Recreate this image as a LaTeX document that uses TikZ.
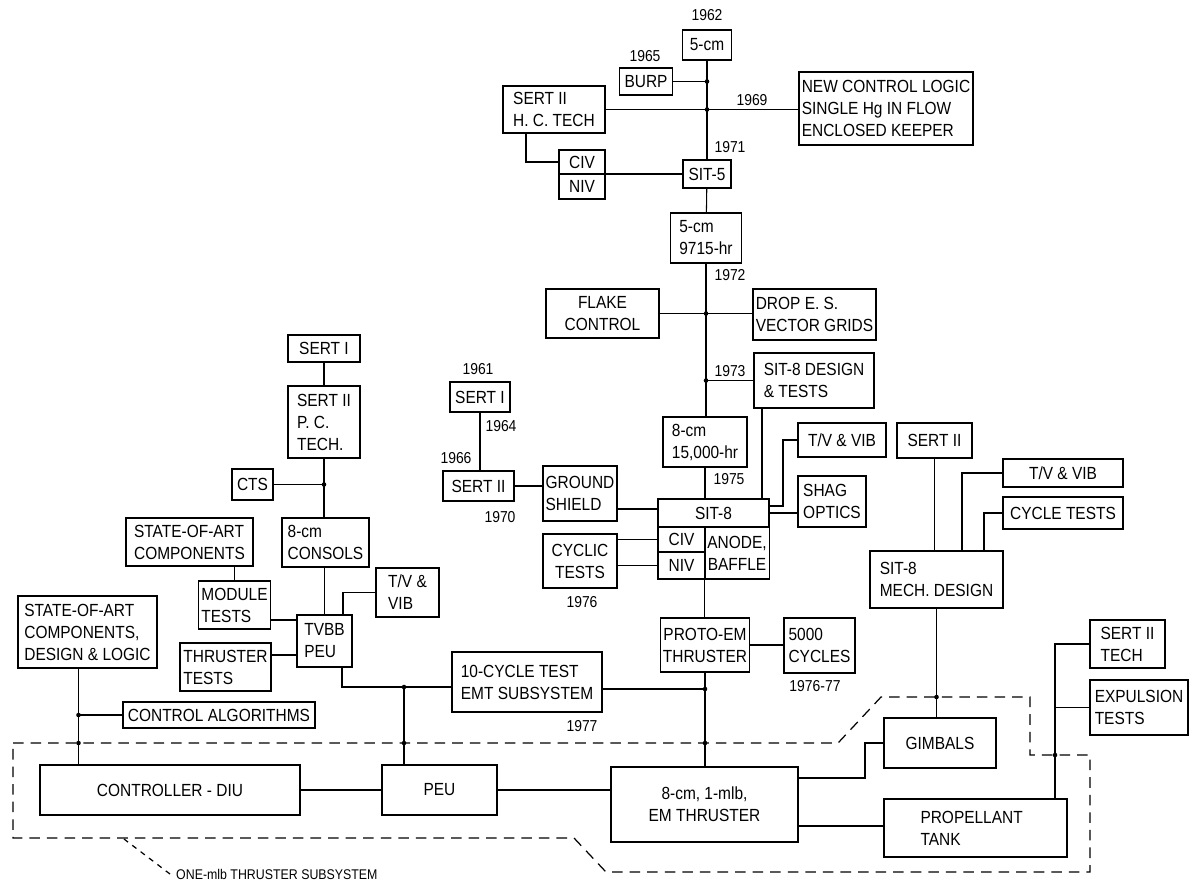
\documentclass[tikz,border=0pt]{standalone}
\usepackage{fontspec}
\setmainfont{Liberation Sans}[FakeStretch=0.88]
\usetikzlibrary{calc}

\begin{document}
\begin{tikzpicture}[x=0.02cm,y=-0.02cm,
  box/.style={draw, line width=0.8pt, inner sep=1.5pt, outer sep=0pt, align=center, font=\fontsize{10}{12.5}\selectfont},
  boxl/.style={box, align=left},
  wh/.style 2 args={minimum width=#1*0.02cm, minimum height=#2*0.02cm},
  yr/.style={font=\fontsize{9}{10}\selectfont, inner sep=1pt},
  wire/.style={line width=0.6pt},
  jdot/.style={circle, fill, inner sep=0pt, minimum size=2.6pt},
  bound/.style={line width=0.7pt, dash pattern=on 6pt off 4pt}]
\useasboundingbox (0,0) rectangle (1195,887);

% 5-cm line
\node[yr] (y62) at (707,15) {1962};
\node[box, wh={49}{30}] (cm5) at (707,45) {5-cm};
\node[yr] (y65) at (645,56) {1965};
\node[box, wh={53}{27}] (burp) at (646,81.5) {BURP};
\node[boxl, wh={102}{47}] (sertIIhc) at (554,109.5) {SERT II\\H. C. TECH};
\node[yr] (y69) at (752,100) {1969};
\node[boxl, wh={173}{73}] (newlogic) at (886,108.5) {NEW CONTROL LOGIC\\SINGLE Hg IN FLOW\\ENCLOSED KEEPER};
\node[yr] (y71) at (730,147) {1971};
\node[box, wh={46}{24}] (civa) at (582,162) {CIV};
\node[box, wh={46}{25}] (niva) at (582,186.5) {NIV};
\node[box, wh={48}{28}] (sit5) at (707,174) {SIT-5};
\node[boxl, wh={71}{50}] (hr9715) at (706,238) {5-cm\\9715-hr};
\node[yr] (y72) at (730,275) {1972};
\node[box, wh={113}{49}] (flake) at (602.5,313.5) {FLAKE\\CONTROL};
\node[boxl, wh={121}{51}] (drop) at (814.5,314.5) {DROP E. S.\\VECTOR GRIDS};
\node[yr] (y73) at (730,371) {1973};
\node[boxl, wh={120}{55}] (sit8des) at (814,380.5) {SIT-8 DESIGN\\\& TESTS};
\node[boxl, wh={84}{50}] (hr15000) at (705,442) {8-cm\\15,000-hr};
\node[yr] (y75) at (729,479) {1975};

% SIT-8 block
\node[box, wh={111}{28}] (sit8) at (713.5,513) {SIT-8};
\node[box, wh={47}{25}] (civb) at (681.5,539.5) {CIV};
\node[box, wh={47}{27}] (nivb) at (681.5,565.5) {NIV};
\node[box, wh={64}{52}] (anode) at (737,553) {ANODE,\\BAFFLE};
\node[box, wh={88}{34}] (tvvibA) at (842,440) {T/V \& VIB};
\node[boxl, wh={68}{51}] (shag) at (832,501.5) {SHAG\\OPTICS};
\node[box, wh={86}{54}] (proto) at (705,645) {PROTO-EM\\THRUSTER};
\node[boxl, wh={71}{55}] (cyc5000) at (819.5,645.5) {5000\\CYCLES};
\node[yr] (y7677) at (815,686) {1976-77};

% SERT I line
\node[yr] (y61) at (478,369) {1961};
\node[box, wh={60}{30}] (sertIb) at (480,397) {SERT I};
\node[yr] (y64) at (501,426) {1964};
\node[yr] (y66) at (456,458) {1966};
\node[box, wh={71}{30}] (sertIIb) at (478.5,486) {SERT II};
\node[yr] (y70) at (500,517) {1970};
\node[boxl, wh={74}{55}] (ground) at (580,493.5) {GROUND\\SHIELD};
\node[box, wh={74}{54}] (cyclic) at (580,561) {CYCLIC\\TESTS};
\node[yr] (y76) at (582,602) {1976};

% PEU line
\node[box, wh={72}{27}] (sertIa) at (324,348.5) {SERT I};
\node[boxl, wh={72}{72}] (sertIIpc) at (324,422) {SERT II\\P. C.\\TECH.};
\node[box, wh={41}{31}] (cts) at (252.5,484.5) {CTS};
\node[boxl, wh={87}{49}] (consols) at (325.5,542.5) {8-cm\\CONSOLS};
\node[boxl, wh={127}{48}] (soaA) at (189.5,542) {STATE-OF-ART\\COMPONENTS};
\node[boxl, wh={71}{48}] (module) at (234.5,605) {MODULE\\TESTS};
\node[boxl, wh={63}{49}] (tvvibB) at (407.5,592.5) {T/V \&\\VIB};
\node[boxl, wh={55}{52}] (tvbb) at (324.5,641) {TVBB\\PEU};
\node[boxl, wh={91}{48}] (thrtests) at (225.5,667) {THRUSTER\\TESTS};
\node[boxl, wh={139}{72}] (soaB) at (87.5,632) {STATE-OF-ART\\COMPONENTS,\\DESIGN \& LOGIC};
\node[box, wh={192}{26}] (ctlalg) at (219,715) {CONTROL ALGORITHMS};
\node[boxl, wh={150}{60}] (tencyc) at (527,682) {10-CYCLE TEST\\EMT SUBSYSTEM};
\node[yr] (y77) at (582,726) {1977};

% mechanical line
\node[box, wh={75}{35}] (sertIIr) at (934.5,440.5) {SERT II};
\node[box, wh={120}{28}] (tvvibC) at (1063,473) {T/V \& VIB};
\node[box, wh={120}{32}] (cyctests) at (1063,513) {CYCLE TESTS};
\node[boxl, wh={133}{57}] (mech) at (936.5,579.5) {SIT-8\\MECH. DESIGN};
\node[boxl, wh={75}{48}] (sertIItech) at (1127.5,644) {SERT II\\TECH};
\node[boxl, wh={98}{55}] (expul) at (1139,707.5) {EXPULSION\\TESTS};
\node[box, wh={112}{50}] (gimbals) at (940,743) {GIMBALS};
\node[boxl, wh={183}{58}, text width=110*0.02cm] (tank) at (975.5,828) {PROPELLANT\\TANK};

% subsystem
\node[box, wh={260}{50}] (ctrl) at (170,790) {CONTROLLER - DIU};
\node[box, wh={115}{50}] (peu) at (439.5,790) {PEU};
\node[box, wh={187}{75}] (emthr) at (704.5,804.5) {8-cm, 1-mlb,\\EM THRUSTER};

% connectors, top
\draw[wire] (cm5) -- (sit5);
\draw[wire] (burp.east) -- (burp.east -| cm5.south);
\draw[wire] (sertIIhc.east) -- (sertIIhc.east -| newlogic.west);
\coordinate (hc1) at ($(sertIIhc.south west)+(23,0)$);
\draw[wire] (hc1) |- (civa.west);
\draw[wire] (sit5.west) -- (sit5.west -| niva.east);
\draw[wire] (sit5) -- (hr9715);
\draw[wire] (hr9715.south) -- (hr9715.south |- hr15000.north);
\draw[wire] (flake.east) -- (flake.east -| drop.west);
\draw[wire] (hr9715.south |- sit8des.west) -- (sit8des.west);
\coordinate (d1) at ($(sit8des.south west)+(8,0)$);
\draw[wire] (d1) -- (d1 |- sit8.north);
\draw[wire] (hr15000.south) -- (hr15000.south |- sit8.north);
\draw[wire] ($(sit8.north east)+(0,7)$) -- ++(14,0) |- (tvvibA.west);
\draw[wire] (sit8.east) -- (sit8.east -| shag.west);
\draw[wire] (anode.south west) -- (anode.south west |- proto.north);
\draw[wire] (proto.east) -- (proto.east -| cyc5000.west);
\draw[wire] (proto.south) -- (proto.south |- emthr.north);
\coordinate (tc1) at ($(tencyc.east)+(0,7)$);
\draw[wire] (tc1) -- (tc1 -| proto.south);

% connectors, SERT I
\draw[wire] (sertIb.south) -- (sertIb.south |- sertIIb.north);
\draw[wire] (sertIIb.east) -- (sertIIb.east -| ground.west);
\coordinate (g1) at ($(ground.south east)+(0,-12)$);
\draw[wire] (g1) -- (g1 -| sit8.west);
\draw[wire] (civb.west -| cyclic.east) -- (civb.west);
\draw[wire] (nivb.west -| cyclic.east) -- (nivb.west);

% connectors, left
\draw[wire] (sertIa) -- (sertIIpc);
\draw[wire] (sertIIpc.south) -- (sertIIpc.south |- consols.north);
\draw[wire] (cts.east) -- (cts.east -| sertIIpc.south);
\draw[wire] (module.north |- soaA.south) -- (module.north);
\draw[wire] (tvbb.north) -- (tvbb.north |- consols.south);
\coordinate (m0) at ($(module.south east)+(0,-9)$);
\draw[wire] (m0) -- (m0 -| tvbb.west);
\coordinate (t0) at ($(thrtests.north east)+(0,12)$);
\draw[wire] (t0) -- (t0 -| tvbb.west);
\draw[wire] (tvvibB.west) -| ($(tvbb.north east)+(-9,0)$);
\coordinate (tc0) at ($(tencyc.west)+(0,5)$);
\draw[wire] (tc0) -| ($(tvbb.south east)+(-10,0)$);
\coordinate (pj) at ($(tc0)+(-48,0)$);
\draw[wire] (pj) -- (pj |- peu.north);
\coordinate (sj) at ($(soaB.south)+(-9,0)$);
\draw[wire] (sj) -- (sj |- ctrl.north);
\draw[wire] (ctlalg.west) -- (ctlalg.west -| sj);
\draw[wire] (ctrl.east) -- (ctrl.east -| peu.west);
\draw[wire] (peu.east) -- (peu.east -| emthr.west);

% connectors, right
\draw[wire] (sertIIr.south) -- (sertIIr.south |- mech.north);
\coordinate (m1) at ($(mech.north west)+(92,0)$);
\coordinate (m2) at ($(mech.north west)+(114,0)$);
\draw[wire] (m1) |- (tvvibC.west);
\draw[wire] (m2) |- (cyctests.west);
\draw[wire] (mech.south) -- (mech.south |- gimbals.north);
\draw[wire] ($(emthr.north east)+(0,11)$) -- ++(67,0) |- (gimbals.west);
\coordinate (e2) at ($(emthr.south east)+(0,-16)$);
\draw[wire] (e2) -- (e2 -| tank.west);
\coordinate (t1) at ($(tank.north east)+(-12,0)$);
\draw[wire] (t1) |- (sertIItech.west);
\draw[wire] (t1 |- expul.west) -- (expul.west);

% subsystem boundary
\coordinate (bl) at (13,743);
\coordinate (br) at (1030,697);
\coordinate (bs) at (1090,755);
\draw[bound] (bl) -- (838,743) -- (881,697) -- (br) -- (br |- bs) -- (bs) -- (1090,872) -- (606,872) -- (574,838) -- (13,838) -- cycle;
\node[anchor=west, font=\fontsize{8}{9}\selectfont] (subsys) at (170,874) {ONE-mlb THRUSTER SUBSYSTEM};
\draw[line width=0.7pt, dash pattern=on 3pt off 3pt] (subsys.west) -- (124,839);

% junction dots
\foreach \p in {burp.east -| cm5.south, sertIIhc.east -| cm5.south, flake.east -| hr9715.south,
  sit8des.west -| hr9715.south, cts.east -| sertIIpc.south, pj, tc1 -| proto.south,
  ctlalg.west -| sj, sj |- bl, pj |- bl, proto.south |- bl, mech.south |- br, t1 |- bs}
  \node[jdot] at (\p) {};
\end{tikzpicture}
\end{document}
